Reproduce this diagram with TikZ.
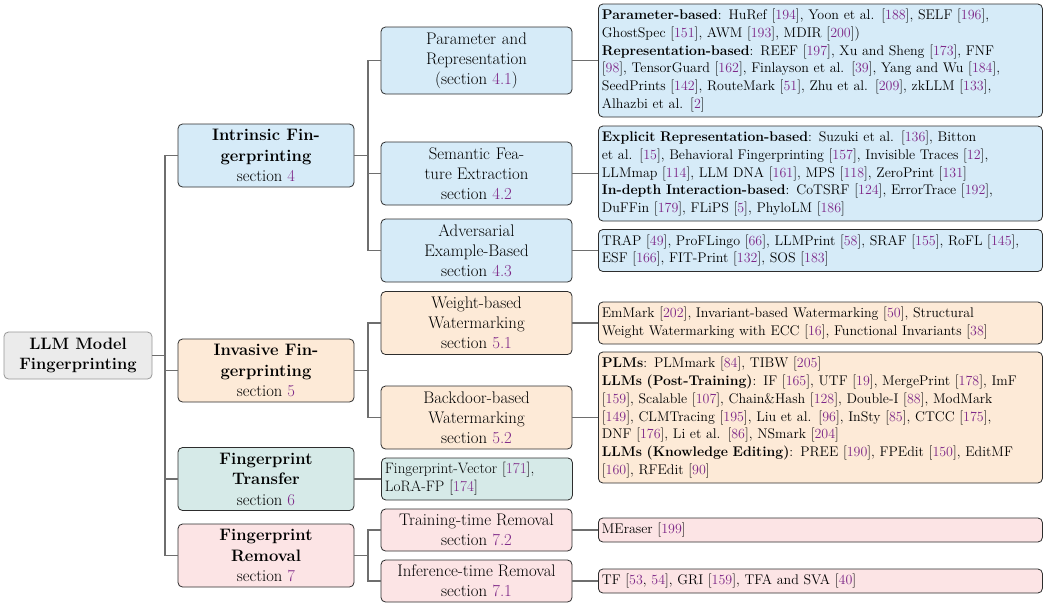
\documentclass[tikz,border=0pt]{standalone}
\usepackage{xcolor}
\usepackage{calc}
\definecolor{cpurple}{RGB}{125,38,135}
\definecolor{bluef}{RGB}{214,235,248}
\definecolor{orangef}{RGB}{253,234,215}
\definecolor{tealf}{RGB}{214,234,232}
\definecolor{pinkf}{RGB}{252,228,229}
\definecolor{rootfill}{RGB}{235,235,235}
\definecolor{rootline}{RGB}{150,150,150}
\definecolor{boxline}{RGB}{45,45,45}
\definecolor{connc}{RGB}{110,110,110}
\newcommand{\rf}[1]{[\textcolor{cpurple}{#1}]}
\newcommand{\sref}[1]{\textcolor{cpurple}{#1}}
\newcommand{\jline}[2]{\makebox[\widthof{#2}][s]{#1}}
\begin{document}
\begin{tikzpicture}[x=1pt,y=-1pt,
  box/.style={draw=boxline, line width=0.8pt, rounded corners=4.5pt, inner sep=0pt, align=center},
  rootbox/.style={box, draw=rootline, fill=rootfill, font=\fontsize{16.5}{20.5}\selectfont\bfseries, minimum width=148pt, minimum height=47pt},
  lone/.style={box, font=\fontsize{16.6}{20.5}\selectfont, minimum width=176pt, minimum height=63pt},
  ltwo/.style={box, font=\fontsize{16.8}{20}\selectfont, minimum width=191pt},
  leaf/.style={draw=boxline, line width=0.8pt, rounded corners=4.5pt, align=left, text width=437pt, inner xsep=3.5pt, inner ysep=0pt, font=\fontsize{14}{17.8}\selectfont, anchor=west},
  conn/.style={draw=connc, line width=1.1pt},
]
\useasboundingbox (0,0) rectangle (1046,603);

% root
\node[rootbox] (root) at (78,355.5) {LLM Model\\Fingerprinting};

% level 1
\node[lone, fill=bluef] (intr) at (266,155.5) {\textbf{Intrinsic Fin-}\\\textbf{gerprinting}\\section \sref{4}};
\node[lone, fill=orangef] (inv) at (266,370.5) {\textbf{Invasive Fin-}\\\textbf{gerprinting}\\section \sref{5}};
\node[lone, fill=tealf] (tra) at (266,479) {\textbf{Fingerprint}\\\textbf{Transfer}\\section \sref{6}};
\node[lone, fill=pinkf] (rem) at (266,555.5) {\textbf{Fingerprint}\\\textbf{Removal}\\section \sref{7}};

% level 2
\node[ltwo, fill=bluef, minimum height=67pt] (par) at (476.5,60.5) {\jline{Parameter and}{Representation}\\Representation\\(section \sref{4.1})};
\node[ltwo, fill=bluef, minimum height=63pt] (sem) at (476.5,173.5) {\jline{Semantic Fea-}{ture Extractio}\\ture Extraction\\section \sref{4.2}};
\node[ltwo, fill=bluef, minimum height=63pt] (adv) at (476.5,250.5) {Adversarial\\Example-Based\\section \sref{4.3}};
\node[ltwo, fill=orangef, minimum height=63pt] (wei) at (476.5,323) {Weight-based\\Watermarking\\section \sref{5.1}};
\node[ltwo, fill=orangef, minimum height=63pt] (bac) at (476.5,417.5) {Backdoor-based\\Watermarking\\section \sref{5.2}};
\node[leaf, fill=tealf, text width=184pt, minimum height=42pt, font=\fontsize{15.1}{18}\selectfont] (trl) at (381,479) {Fingerprint-Vector \rf{171},\\LoRA-FP \rf{174}};
\node[ltwo, fill=pinkf, minimum height=42pt] (trt) at (476.5,530) {Training-time Removal\\section \sref{7.2}};
\node[ltwo, fill=pinkf, minimum height=42pt] (inf) at (476.5,581) {Inference-time Removal\\section \sref{7.1}};

% leaves
\node[leaf, fill=bluef, minimum height=113pt] (lpar) at (598,60.5) {\textbf{Parameter-based}: HuRef \rf{194}, Yoon et al. \rf{188}, SELF \rf{196},\\
GhostSpec \rf{151}, AWM \rf{193}, MDIR \rf{200})\\
\textbf{Representation-based}: REEF \rf{197}, Xu and Sheng \rf{173}, FNF\\
\rf{98}, TensorGuard \rf{162}, Finlayson et al. \rf{39}, Yang and Wu \rf{184},\\
SeedPrints \rf{142}, RouteMark \rf{51}, Zhu et al. \rf{209}, zkLLM \rf{133},\\
Alhazbi et al. \rf{2}};
\node[leaf, fill=bluef, minimum height=95pt] (lsem) at (598,173.5) {\textbf{Explicit Representation-based}: Suzuki et al. \rf{136}, Bitton\\
et al. \rf{15}, Behavioral Fingerprinting \rf{157}, Invisible Traces \rf{12},\\
LLMmap \rf{114}, LLM DNA \rf{161}, MPS \rf{118}, ZeroPrint \rf{131}\\
\textbf{In-depth Interaction-based}: CoTSRF \rf{124}, ErrorTrace \rf{192},\\
DuFFin \rf{179}, FLiPS \rf{5}, PhyloLM \rf{186}};
\node[leaf, fill=bluef, minimum height=42pt] (ladv) at (598,250.5) {TRAP \rf{49}, ProFLingo \rf{66}, LLMPrint \rf{58}, SRAF \rf{155}, RoFL \rf{145},\\
ESF \rf{166}, FIT-Print \rf{132}, SOS \rf{183}};
\node[leaf, fill=orangef, minimum height=42pt] (lwei) at (598,323) {EmMark \rf{202}, Invariant-based Watermarking \rf{50}, Structural\\
Weight Watermarking with ECC \rf{16}, Functional Invariants \rf{38}};
\node[leaf, fill=orangef, minimum height=131pt] (lbac) at (598,417.5) {\textbf{PLMs}: PLMmark \rf{84}, TIBW \rf{205}\\
\textbf{LLMs (Post-Training)}: IF \rf{165}, UTF \rf{19}, MergePrint \rf{178}, ImF\\
\rf{159}, Scalable \rf{107}, Chain\&Hash \rf{128}, Double-I \rf{88}, ModMark\\
\rf{149}, CLMTracing \rf{195}, Liu et al. \rf{96}, InSty \rf{85}, CTCC \rf{175},\\
DNF \rf{176}, Li et al. \rf{86}, NSmark \rf{204}\\
\textbf{LLMs (Knowledge Editing)}: PREE \rf{190}, FPEdit \rf{150}, EditMF\\
\rf{160}, RFEdit \rf{90}};
\node[leaf, fill=pinkf, minimum height=24pt] (ltrt) at (598,530) {MEraser \rf{199}};
\node[leaf, fill=pinkf, minimum height=24pt] (linf) at (598,581) {TF [\textcolor{cpurple}{53}, \textcolor{cpurple}{54}], GRI \rf{159}, TFA and SVA \rf{40}};

% trunks
\coordinate (tA) at (165,0);
\coordinate (tB) at (368,0);

% connectors
\foreach \n in {intr,inv,tra,rem}
  \draw[conn] (root.east) -- (root.east -| tA) |- (\n.west);
\foreach \n in {par,sem,adv}
  \draw[conn] (intr.east) -- (intr.east -| tB) |- (\n.west);
\foreach \n in {wei,bac}
  \draw[conn] (inv.east) -- (inv.east -| tB) |- (\n.west);
\draw[conn] (tra.east) -- (trl.west);
\foreach \n in {trt,inf}
  \draw[conn] (rem.east) -- (rem.east -| tB) |- (\n.west);
\draw[conn] (par.east) -- (lpar.west);
\draw[conn] (sem.east) -- (lsem.west);
\draw[conn] (adv.east) -- (ladv.west);
\draw[conn] (wei.east) -- (lwei.west);
\draw[conn] (bac.east) -- (lbac.west);
\draw[conn] (trt.east) -- (ltrt.west);
\draw[conn] (inf.east) -- (linf.west);
\end{tikzpicture}
\end{document}
